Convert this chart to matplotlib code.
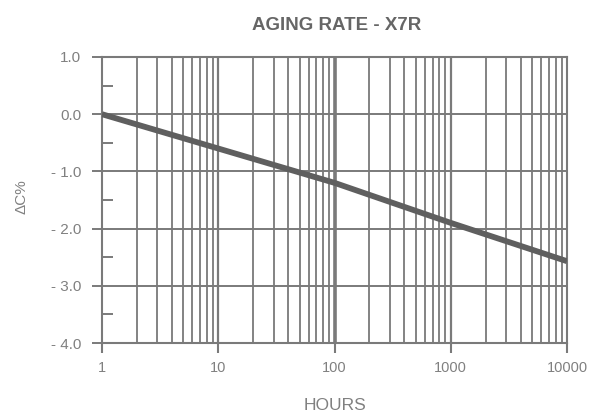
import matplotlib
matplotlib.use("Agg")
import matplotlib.pyplot as plt
from matplotlib.ticker import FixedLocator, NullFormatter
import numpy as np

hours = [1, 10, 100, 1000, 10000]
delta_c = [0.0, -0.6, -1.2, -1.9, -2.57]
x_tick_labels = ["1", "10", "100", "1000", "10000"]
y_ticks = [1.0, 0.0, -1.0, -2.0, -3.0, -4.0]
y_tick_labels = ["1.0", "0.0", "- 1.0", "- 2.0", "- 3.0", "- 4.0"]
y_minor = [0.5, -0.5, -1.5, -2.5, -3.5]

plt.rcParams['font.family'] = ['Liberation Sans', 'DejaVu Sans']
grid_c = '#7a7a7a'
text_c = '#808080'

fig = plt.figure(figsize=(5.95, 4.15), dpi=100)
ax = fig.add_axes([102/595, 1 - 343/415, (567-102)/595, (343-57)/415])

ax.set_xscale('log')
ax.set_xlim(1, 10000)
ax.set_ylim(-4, 1)

# vertical grid lines at every log step
for d in [1, 10, 100, 1000]:
    for m in range(2, 10):
        ax.axvline(d*m, color=grid_c, lw=1.3, zorder=1)
for d in [10, 1000]:
    ax.axvline(d, color=grid_c, lw=1.6, zorder=1)
ax.axvline(100, color=grid_c, lw=2.6, zorder=1)
for yv in y_ticks:
    ax.axhline(yv, color=grid_c, lw=1.4, zorder=1)

ax.plot(hours, delta_c, color='#5f5f5f', lw=4.2, zorder=3, solid_capstyle='butt')

for s in ax.spines.values():
    s.set_color(grid_c)
    s.set_linewidth(1.5)

ax.xaxis.set_major_locator(FixedLocator(hours))
ax.set_xticklabels(x_tick_labels)
ax.xaxis.set_minor_locator(FixedLocator([]))
ax.xaxis.set_minor_formatter(NullFormatter())
ax.tick_params(axis='x', which='major', direction='out', length=7, width=1.5,
               color=grid_c, labelcolor=text_c, labelsize=10.5, pad=6)

ax.set_yticks(y_ticks)
ax.set_yticklabels(y_tick_labels)
ax.yaxis.set_minor_locator(FixedLocator(y_minor))
ax.tick_params(axis='y', which='major', direction='out', length=7, width=1.4,
               color=grid_c, labelcolor=text_c, labelsize=11, pad=8)
ax.tick_params(axis='y', which='minor', direction='in', length=8, width=1.4,
               color=grid_c)

fig.text(337/595, 1 - 25/415, "AGING RATE - X7R", ha='center', va='center',
         fontsize=13.5, fontweight='bold', color='#666666')
fig.text(21/595, 1 - 197/415, "ΔC%", ha='center', va='center', rotation=90,
         fontsize=11, color=text_c)
fig.text(335/595, 1 - 405/415, "HOURS", ha='center', va='center',
         fontsize=12.5, color=text_c)

fig.savefig("out.png", dpi=100, facecolor='white')
